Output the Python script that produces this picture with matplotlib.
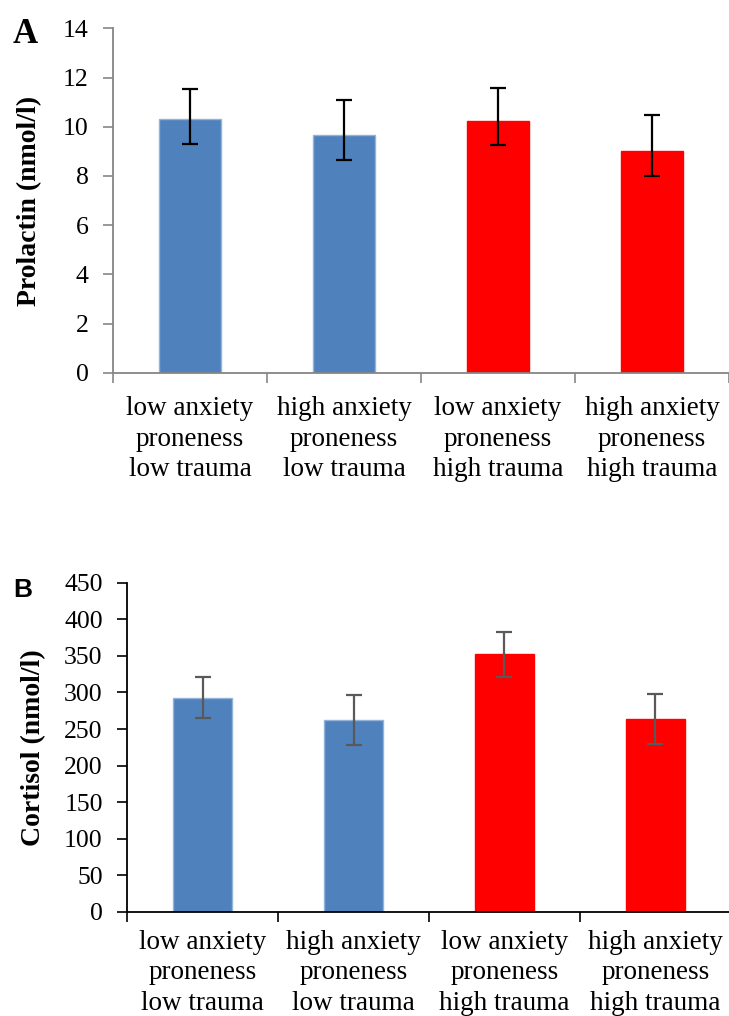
import matplotlib.pyplot as plt
import numpy as np
from matplotlib.ticker import FixedLocator

plt.rcParams['font.family'] = ['Liberation Serif', 'DejaVu Serif']

groups = ["low anxiety\nproneness\nlow trauma",
          "high anxiety\nproneness\nlow trauma",
          "low anxiety\nproneness\nhigh trauma",
          "high anxiety\nproneness\nhigh trauma"]
bar_colors = ["#4F81BD", "#4F81BD", "#FF0000", "#FF0000"]
edge_colors = ["#95B3D7", "#95B3D7", "#FF0000", "#FF0000"]

# panel A: prolactin (nmol/l)
prolactin = [10.31, 9.65, 10.23, 9.01]
prolactin_err_low = [1.00, 1.00, 0.99, 1.00]
prolactin_err_high = [1.21, 1.44, 1.33, 1.47]

# panel B: cortisol (nmol/l)
cortisol = [293, 262, 352, 264]
cortisol_err = [28, 34, 31, 34]

fig = plt.figure(figsize=(7.29, 10.16), dpi=100)

W, H = 729, 1016


def make_axes(left, right, top, bottom):
    return fig.add_axes([left / W, 1 - bottom / H, (right - left) / W, (bottom - top) / H])


def style_axes(ax, spine_color, label_pad):
    x = np.arange(len(groups))
    ax.set_xlim(-0.5, len(groups) - 0.5)
    ax.set_xticks(x)
    ax.set_xticklabels(groups, fontsize=19.5, linespacing=1.28)
    ax.xaxis.set_minor_locator(FixedLocator(np.arange(len(groups) + 1) - 0.5))
    ax.tick_params(axis='x', which='major', length=0, pad=label_pad)
    ax.tick_params(axis='x', which='minor', length=7, width=1.2, color=spine_color, direction='out')
    ax.tick_params(axis='y', length=7.5, width=1.2, color=spine_color, labelsize=18.5, pad=10)
    for side in ['top', 'right']:
        ax.spines[side].set_visible(False)
    for side in ['left', 'bottom']:
        ax.spines[side].set_color(spine_color)
        ax.spines[side].set_linewidth(1.3)


# ---- panel A ----
axA = make_axes(113, 729, 28.3, 372.7)
xA = np.arange(len(groups))
axA.bar(xA, prolactin, width=0.4, color=bar_colors, edgecolor=edge_colors, linewidth=1)
axA.errorbar(xA, prolactin, yerr=[prolactin_err_low, prolactin_err_high], fmt='none',
             ecolor='black', elinewidth=1.6, capsize=6, capthick=1.6)
axA.set_ylim(0, 14)
axA.set_yticks(np.arange(0, 15, 2))
style_axes(axA, '#868686', 17)
axA.set_ylabel("Prolactin (nmol/l)", fontsize=20, fontweight='bold')
axA.yaxis.set_label_coords(-0.115, 0.5)
fig.text(13 / W, 1 - 43 / H, "A", fontsize=25, fontweight='bold', ha='left', va='baseline')

# ---- panel B ----
axB = make_axes(127, 731, 582.7, 912)
xB = np.arange(len(groups))
axB.bar(xB, cortisol, width=0.39, color=bar_colors, edgecolor=edge_colors, linewidth=1)
axB.errorbar(xB, cortisol, yerr=cortisol_err, fmt='none',
             ecolor='#595959', elinewidth=1.6, capsize=6, capthick=1.6)
axB.set_ylim(0, 450)
axB.set_yticks(np.arange(0, 451, 50))
style_axes(axB, 'black', 13)
axB.set_ylabel("Cortisol (nmol/l)", fontsize=20, fontweight='bold')
axB.yaxis.set_label_coords(-0.134, 0.5)
fig.text(13 / W, 1 - 597 / H, "B", fontsize=19, fontweight='bold', ha='left', va='baseline',
         family=['Liberation Sans', 'DejaVu Sans'])

fig.savefig("out.png", dpi=100)
